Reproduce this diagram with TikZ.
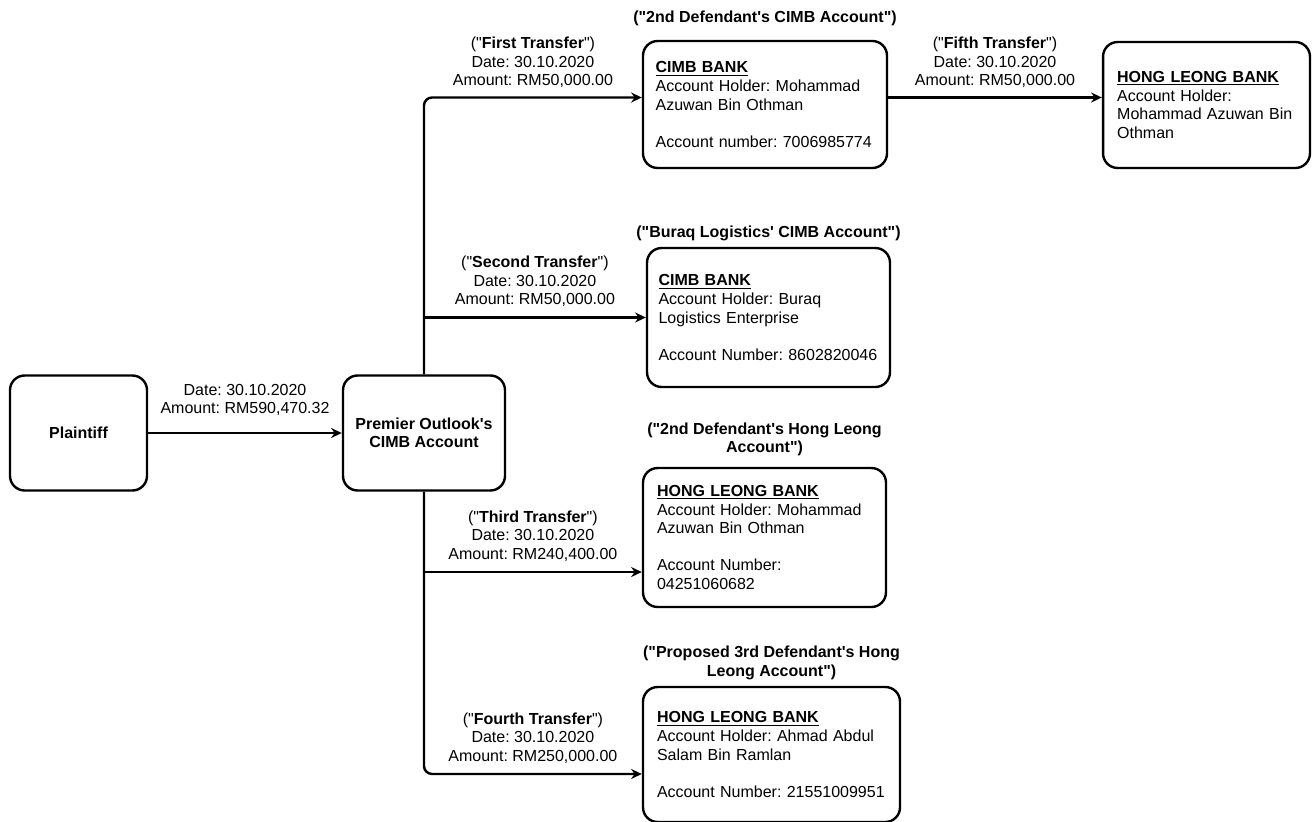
\documentclass[tikz,border=0pt]{standalone}
\usepackage{fontspec}
\setmainfont{Liberation Sans}[Ligatures=TeXOff]
\frenchspacing
\usetikzlibrary{positioning,arrows.meta}

\begin{document}
\begin{tikzpicture}[
  x=0.75pt, y=-0.75pt,
  font=\fontsize{12}{13.9}\selectfont,
  party/.style={rectangle, draw, line width=1.8pt, rounded corners=11pt, align=center, minimum height=86.25pt, font=\fontsize{12}{13.9}\selectfont\bfseries},
  account/.style={rectangle, draw, line width=1.8pt, rounded corners=11pt, align=left, inner xsep=10.5pt, inner ysep=0pt},
  heading/.style={align=center, inner sep=0pt, font=\fontsize{12}{13.9}\selectfont\bfseries},
  amount/.style={align=center, inner sep=0pt},
  relation/.style={->, >={Stealth[length=8pt, width=7.5pt]}, line width=1.8pt, rounded corners=6pt}
]
\useasboundingbox (0,0) rectangle (1312,821);

% Cuentas
\node[party, minimum width=102.75pt] (plaintiff) at (78.5,433) {Plaintiff};
\node[party, minimum width=121.5pt] (premier) at (424,433) {Premier Outlook's\\CIMB Account};
\node[account, text width=164pt, inner xsep=9.5pt, minimum height=95.25pt] (cimbdef) at (765,104.5) {\underline{\textbf{CIMB BANK}}\\Account Holder: Mohammad\\Azuwan Bin Othman\\[13.9pt]Account number: 7006985774};
\node[account, text width=134pt, inner xsep=10.6pt, minimum height=94.5pt] (hlright) at (1206.5,105) {\underline{\textbf{HONG LEONG BANK}}\\Account Holder:\\Mohammad Azuwan Bin\\Othman};
\node[account, text width=165pt, inner xsep=8.6pt, minimum height=104.25pt] (buraq) at (768.5,317.5) {\underline{\textbf{CIMB BANK}}\\Account Holder: Buraq\\Logistics Enterprise\\[13.9pt]Account Number: 8602820046};
\node[account, text width=161.25pt, minimum height=104.25pt] (hldef) at (764.5,537.5) {\underline{\textbf{HONG LEONG BANK}}\\Account Holder: Mohammad\\Azuwan Bin Othman\\[13.9pt]Account Number:\\04251060682};
\node[account, text width=171.75pt, minimum height=101.25pt] (proposed) at (771.5,754.5) {\underline{\textbf{HONG LEONG BANK}}\\Account Holder: Ahmad Abdul\\Salam Bin Ramlan\\[13.9pt]Account Number: 21551009951};

% Titulos
\node[heading, above=10pt of cimbdef] (cimbdeftitle) {("2nd Defendant's CIMB Account")};
\node[heading, above=4pt of buraq] (buraqtitle) {("Buraq Logistics' CIMB Account")};
\node[heading, above=8pt of hldef] (hldeftitle) {("2nd Defendant's Hong Leong\\Account")};
\node[heading, above=4.5pt of proposed] (proposedtitle) {("Proposed 3rd Defendant's Hong\\Leong Account")};

% Puntos de llegada
\coordinate (firstin) at ([yshift=5.25pt]cimbdef.west);
\coordinate (fifthout) at ([yshift=5.25pt]cimbdef.east);
\coordinate (thirdin) at ([yshift=-25.9pt]hldef.west);
\coordinate (fourthin) at ([yshift=-14.6pt]proposed.west);

% Transferencias
\draw[relation] (plaintiff) -- (premier) node[amount, midway, above=12pt] {Date: 30.10.2020\\Amount: RM590,470.32};
\draw[relation] (premier.north) |- (firstin) node[amount, pos=0.75, above=6.5pt] {("\textbf{First Transfer}")\\Date: 30.10.2020\\Amount: RM50,000.00};
\draw[relation] (premier.north |- buraq.west) -- (buraq.west) node[amount, midway, above=7pt] {("\textbf{Second Transfer}")\\Date: 30.10.2020\\Amount: RM50,000.00};
\draw[relation] (premier.south |- thirdin) -- (thirdin) node[amount, midway, above=7pt] {("\textbf{Third Transfer}")\\Date: 30.10.2020\\Amount: RM240,400.00};
\draw[relation] (premier.south) |- (fourthin) node[amount, pos=0.75, above=7pt] {("\textbf{Fourth Transfer}")\\Date: 30.10.2020\\Amount: RM250,000.00};
\draw[relation] (fifthout) -- (fifthout -| hlright.west) node[amount, midway, above=6.5pt] {("\textbf{Fifth Transfer}")\\Date: 30.10.2020\\Amount: RM50,000.00};

\end{tikzpicture}
\end{document}
